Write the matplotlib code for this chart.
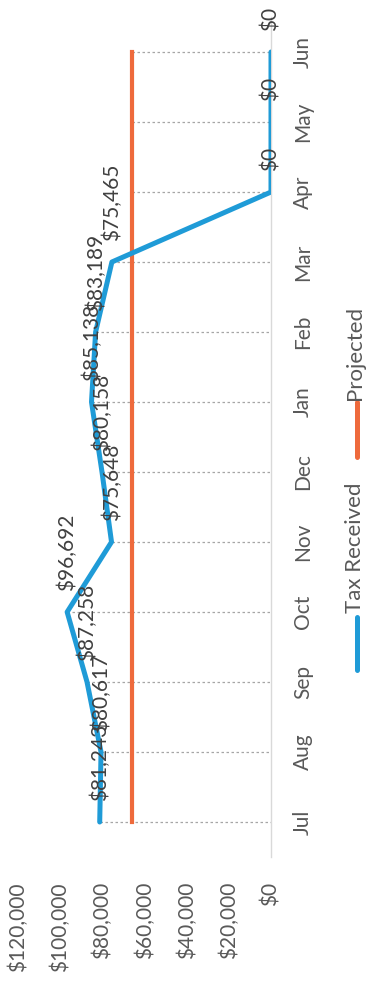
import numpy as np
import matplotlib.pyplot as plt
from matplotlib.lines import Line2D

plt.rcParams['font.family'] = ['Lato', 'DejaVu Sans']

# data (chart is drawn turned on its side: months run bottom -> top)
months = ["Jul", "Aug", "Sep", "Oct", "Nov", "Dec", "Jan", "Feb", "Mar", "Apr", "May", "Jun"]
tax_received = [81243, 80617, 87258, 96692, 75648, 80158, 85138, 83189, 75465, 0, 0, 0]
projected = [66000] * 12
value_ticks = [0, 20000, 40000, 60000, 80000, 100000, 120000]

blue = "#1f9bd7"
orange = "#ee6a3c"
W, H = 366, 985

fig = plt.figure(figsize=(W / 100, H / 100), dpi=100)
ax = fig.add_axes([18 / W, (H - 857) / H, 253 / W, 840 / H])
pos = np.arange(len(months))

# drop lines from the highest series to zero
top = np.maximum(tax_received, projected)
ax.hlines(pos, top, 0, colors="#a6a6a6", linestyles=(0, (2, 2)), lw=0.9, zorder=1)

ax.plot(projected, pos, color=orange, lw=3, zorder=2)
ax.plot(tax_received, pos, color=blue, lw=3.6, zorder=3,
        solid_joinstyle='round', solid_capstyle='round')

# data labels
for i, v in enumerate(tax_received):
    ax.annotate(f"${v:,}", (v, i), xytext=(0, 15), textcoords='offset points',
                rotation=90, ha='center', va='bottom', fontsize=15, color='#404040', zorder=4)

ax.set_xlim(120000, 0)
ax.set_ylim(-0.5, 11.5)

ax.set_xticks(value_ticks)
ax.set_xticklabels([f"${v:,}" for v in value_ticks], rotation=90)
ax.tick_params(axis='x', length=0, pad=18, labelsize=15, labelcolor='#595959')

ax.yaxis.tick_right()
ax.set_yticks(pos)
ax.set_yticklabels(months, rotation=90, va='center')
ax.tick_params(axis='y', length=0, pad=16, labelsize=15, labelcolor='#595959')

for s in ['top', 'left', 'bottom']:
    ax.spines[s].set_visible(False)
ax.spines['right'].set_color('#d9d9d9')
ax.spines['right'].set_linewidth(1)

# legend, turned like the chart
def legend_entry(color, label, y0, y1, ytext):
    fig.add_artist(Line2D([357 / W, 357 / W], [(H - y1) / H, (H - y0) / H],
                          color=color, lw=3.6, solid_capstyle='round'))
    fig.text(355 / W, (H - ytext) / H, label, rotation=90, ha='center', va='bottom',
             fontsize=16, color='#595959')

legend_entry(blue, "Tax Received", 617, 670, 613)
legend_entry(orange, "Projected", 402, 457, 400)

fig.savefig("out.png", dpi=100)
